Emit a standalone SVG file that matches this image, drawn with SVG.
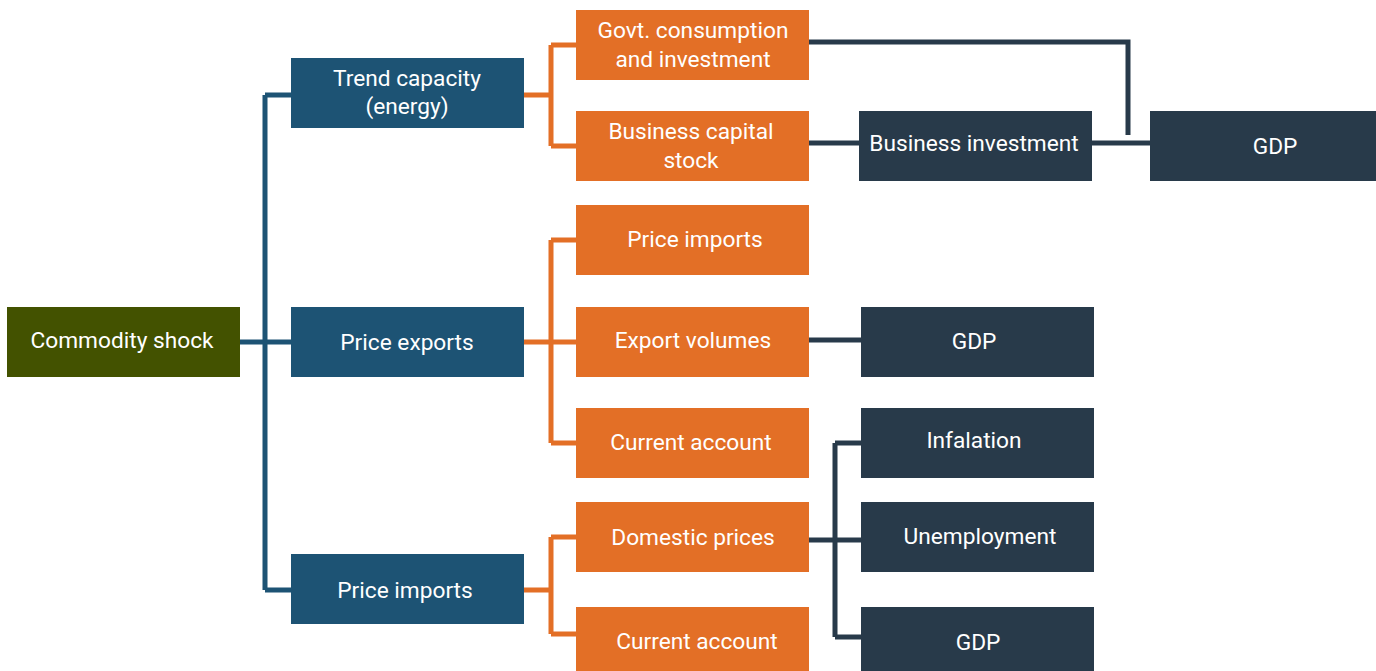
<svg xmlns="http://www.w3.org/2000/svg" width="1376" height="671" viewBox="0 0 1376 671">
<style>
.b{fill:#1d5374}.o{fill:#e36f26}.d{fill:#283a4a}.g{fill:#435200}
text{font-family:Roboto,"Liberation Sans",sans-serif;font-size:22.7px;fill:#fff;text-anchor:middle}
.cb{stroke:#1d5374;stroke-width:5;fill:none}
.co{stroke:#e36f26;stroke-width:5;fill:none}
.cd{stroke:#283a4a;stroke-width:5;fill:none}
</style>
<rect width="1376" height="671" fill="#fff"/>
<g id="connectors">
<path class="cb" d="M240 342H291M265 95V590M265 95H291M265 590H291"/>
<path class="co" d="M524 95H551M551 45V146M551 45H576M551 146H576"/>
<path class="co" d="M524 342H576M551 240V443M551 240H576M551 443H576"/>
<path class="co" d="M524 590H551M551 537V634M551 537H576M551 634H576"/>
<path class="cd" d="M809 42H1128V135"/>
<path class="cd" d="M809 143H859M1092 143H1150"/>
<path class="cd" d="M809 340H861"/>
<path class="cd" d="M809 540H861M835 443V637M835 443H861M835 637H861"/>
</g>
<g id="commodity"><rect class="g" x="7" y="307" width="233" height="70"/><text x="122" y="348">Commodity shock</text></g>
<g id="trend"><rect class="b" x="291" y="58" width="233" height="70"/><text x="407" y="86">Trend capacity</text><text x="407" y="114">(energy)</text></g>
<g id="priceExports"><rect class="b" x="291" y="307" width="233" height="70"/><text x="407" y="350">Price exports</text></g>
<g id="priceImportsB"><rect class="b" x="291" y="554" width="233" height="70"/><text x="405" y="598">Price imports</text></g>
<g id="govt"><rect class="o" x="576" y="10" width="233" height="70"/><text x="693" y="38">Govt. consumption</text><text x="693" y="67">and investment</text></g>
<g id="bizCap"><rect class="o" x="576" y="111" width="233" height="70"/><text x="691" y="139">Business capital</text><text x="691" y="168">stock</text></g>
<g id="priceImportsO"><rect class="o" x="576" y="205" width="233" height="70"/><text x="695" y="247">Price imports</text></g>
<g id="exportVol"><rect class="o" x="576" y="307" width="233" height="70"/><text x="693" y="348">Export volumes</text></g>
<g id="currAcc1"><rect class="o" x="576" y="408" width="233" height="70"/><text x="691" y="450">Current account</text></g>
<g id="domPrices"><rect class="o" x="576" y="502" width="233" height="70"/><text x="693" y="545">Domestic prices</text></g>
<g id="currAcc2"><rect class="o" x="576" y="607" width="233" height="70"/><text x="697" y="649">Current account</text></g>
<g id="bizInv"><rect class="d" x="859" y="111" width="233" height="70"/><text x="974" y="151">Business investment</text></g>
<g id="gdpTop"><rect class="d" x="1150" y="111" width="226" height="70"/><text x="1275" y="154">GDP</text></g>
<g id="gdpMid"><rect class="d" x="861" y="307" width="233" height="70"/><text x="974" y="349">GDP</text></g>
<g id="inflation"><rect class="d" x="861" y="408" width="233" height="70"/><text x="974" y="448">Infalation</text></g>
<g id="unemp"><rect class="d" x="861" y="502" width="233" height="70"/><text x="980" y="544">Unemployment</text></g>
<g id="gdpBot"><rect class="d" x="861" y="607" width="233" height="70"/><text x="978" y="650">GDP</text></g>
</svg>
